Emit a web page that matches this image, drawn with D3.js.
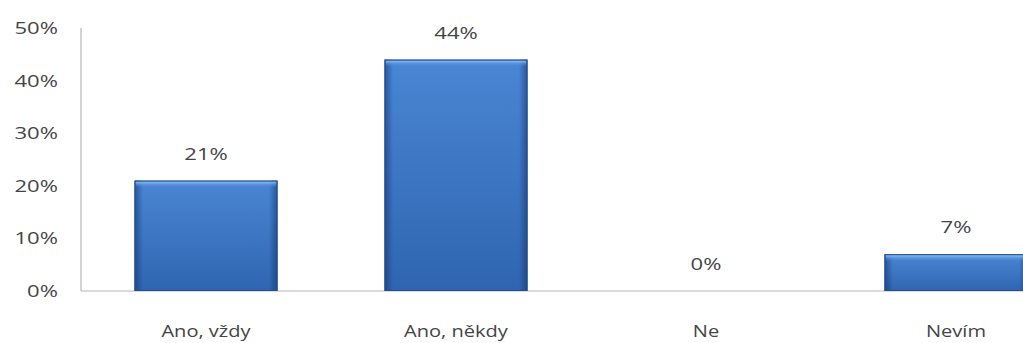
<!DOCTYPE html>
<html>
<head>
<meta charset="utf-8">
<script src="https://cdn.jsdelivr.net/npm/d3@7"></script>
<style>
  html, body { margin: 0; padding: 0; background: #fff; overflow: hidden; }
  text { font-family: "Open Sans", sans-serif; fill: #444; }
</style>
</head>
<body>
<svg width="1023" height="343"></svg>
<script>
// data
const categories = ["Ano, vždy", "Ano, někdy", "Ne", "Nevím"];
const values = [21, 44, 0, 7];
const yTicks = [0, 10, 20, 30, 40, 50];

const svg = d3.select("svg");

// plot box (the last band runs past the right edge, like in the picture)
const plotLeft = 81, plotTop = 28, plotBottom = 291;
const bandW = 250;

const x = d3.scaleBand()
    .domain(categories)
    .range([plotLeft, plotLeft + bandW * categories.length])
    .paddingInner(0.428)
    .paddingOuter(0.214);

const y = d3.scaleLinear()
    .domain([0, 50])
    .range([plotBottom, plotTop]);

// gradients for the bevelled bars
const defs = svg.append("defs");
const vg = defs.append("linearGradient").attr("id", "barV")
    .attr("x1", 0).attr("y1", 0).attr("x2", 0).attr("y2", 1);
vg.append("stop").attr("offset", "0%").attr("stop-color", "#4a86d4");
vg.append("stop").attr("offset", "100%").attr("stop-color", "#2f65b0");

const hg = defs.append("linearGradient").attr("id", "barH")
    .attr("x1", 0).attr("y1", 0).attr("x2", 1).attr("y2", 0);
hg.append("stop").attr("offset", "0%").attr("stop-color", "#0d2f66").attr("stop-opacity", 0.55);
hg.append("stop").attr("offset", "6%").attr("stop-color", "#0d2f66").attr("stop-opacity", 0.0);
hg.append("stop").attr("offset", "94%").attr("stop-color", "#0d2f66").attr("stop-opacity", 0.0);
hg.append("stop").attr("offset", "100%").attr("stop-color", "#0d2f66").attr("stop-opacity", 0.55);

const tg = defs.append("linearGradient").attr("id", "barTop")
    .attr("x1", 0).attr("y1", 0).attr("x2", 0).attr("y2", 1);
tg.append("stop").attr("offset", "0%").attr("stop-color", "#8cc0f7");
tg.append("stop").attr("offset", "100%").attr("stop-color", "#4a86d4").attr("stop-opacity", 0);

// axis lines
svg.append("line")
    .attr("x1", plotLeft).attr("x2", plotLeft)
    .attr("y1", plotTop).attr("y2", plotBottom)
    .attr("stroke", "#b8b8b8").attr("stroke-width", 1.2);
svg.append("line")
    .attr("x1", plotLeft).attr("x2", 1023)
    .attr("y1", plotBottom).attr("y2", plotBottom)
    .attr("stroke", "#b8b8b8").attr("stroke-width", 1.2);

// y tick labels
svg.selectAll(".ytick")
    .data(yTicks)
    .join("text")
    .attr("class", "ytick")
    .attr("transform", d => `translate(58,${y(d) + 6}) scale(1.3,1)`)
    .attr("text-anchor", "end")
    .attr("font-size", 17)
    .text(d => d + "%");

// bars
const rows = categories.map((c, i) => ({ cat: c, val: values[i] }));

svg.selectAll(".bar")
    .data(rows.filter(d => d.val > 0))
    .join("g")
    .attr("class", "bar")
    .each(function(d) {
        const g = d3.select(this);
        const bx = x(d.cat), bw = x.bandwidth();
        const by = y(d.val), bh = plotBottom - y(d.val);
        g.append("rect").attr("x", bx).attr("y", by).attr("width", bw).attr("height", bh)
            .attr("fill", "url(#barV)");
        g.append("rect").attr("x", bx).attr("y", by).attr("width", bw).attr("height", bh)
            .attr("fill", "url(#barH)");
        g.append("rect").attr("x", bx + 1).attr("y", by + 1).attr("width", bw - 2).attr("height", Math.min(6, bh - 2))
            .attr("fill", "url(#barTop)");
        g.append("rect").attr("x", bx + 0.5).attr("y", by + 0.5).attr("width", bw - 1).attr("height", bh - 1)
            .attr("fill", "none").attr("stroke", "#244f8e").attr("stroke-width", 1);
    });

// value labels
svg.selectAll(".val")
    .data(rows)
    .join("text")
    .attr("class", "val")
    .attr("transform", d => `translate(${x(d.cat) + x.bandwidth() / 2},${y(d.val) - 21}) scale(1.3,1)`)
    .attr("text-anchor", "middle")
    .attr("font-size", 17)
    .text(d => d.val + "%");

// category labels
svg.selectAll(".cat")
    .data(categories)
    .join("text")
    .attr("class", "cat")
    .attr("transform", d => `translate(${x(d) + x.bandwidth() / 2},337) scale(1.18,1)`)
    .attr("text-anchor", "middle")
    .attr("font-size", 17)
    .text(d => d);
</script>
</body>
</html>
